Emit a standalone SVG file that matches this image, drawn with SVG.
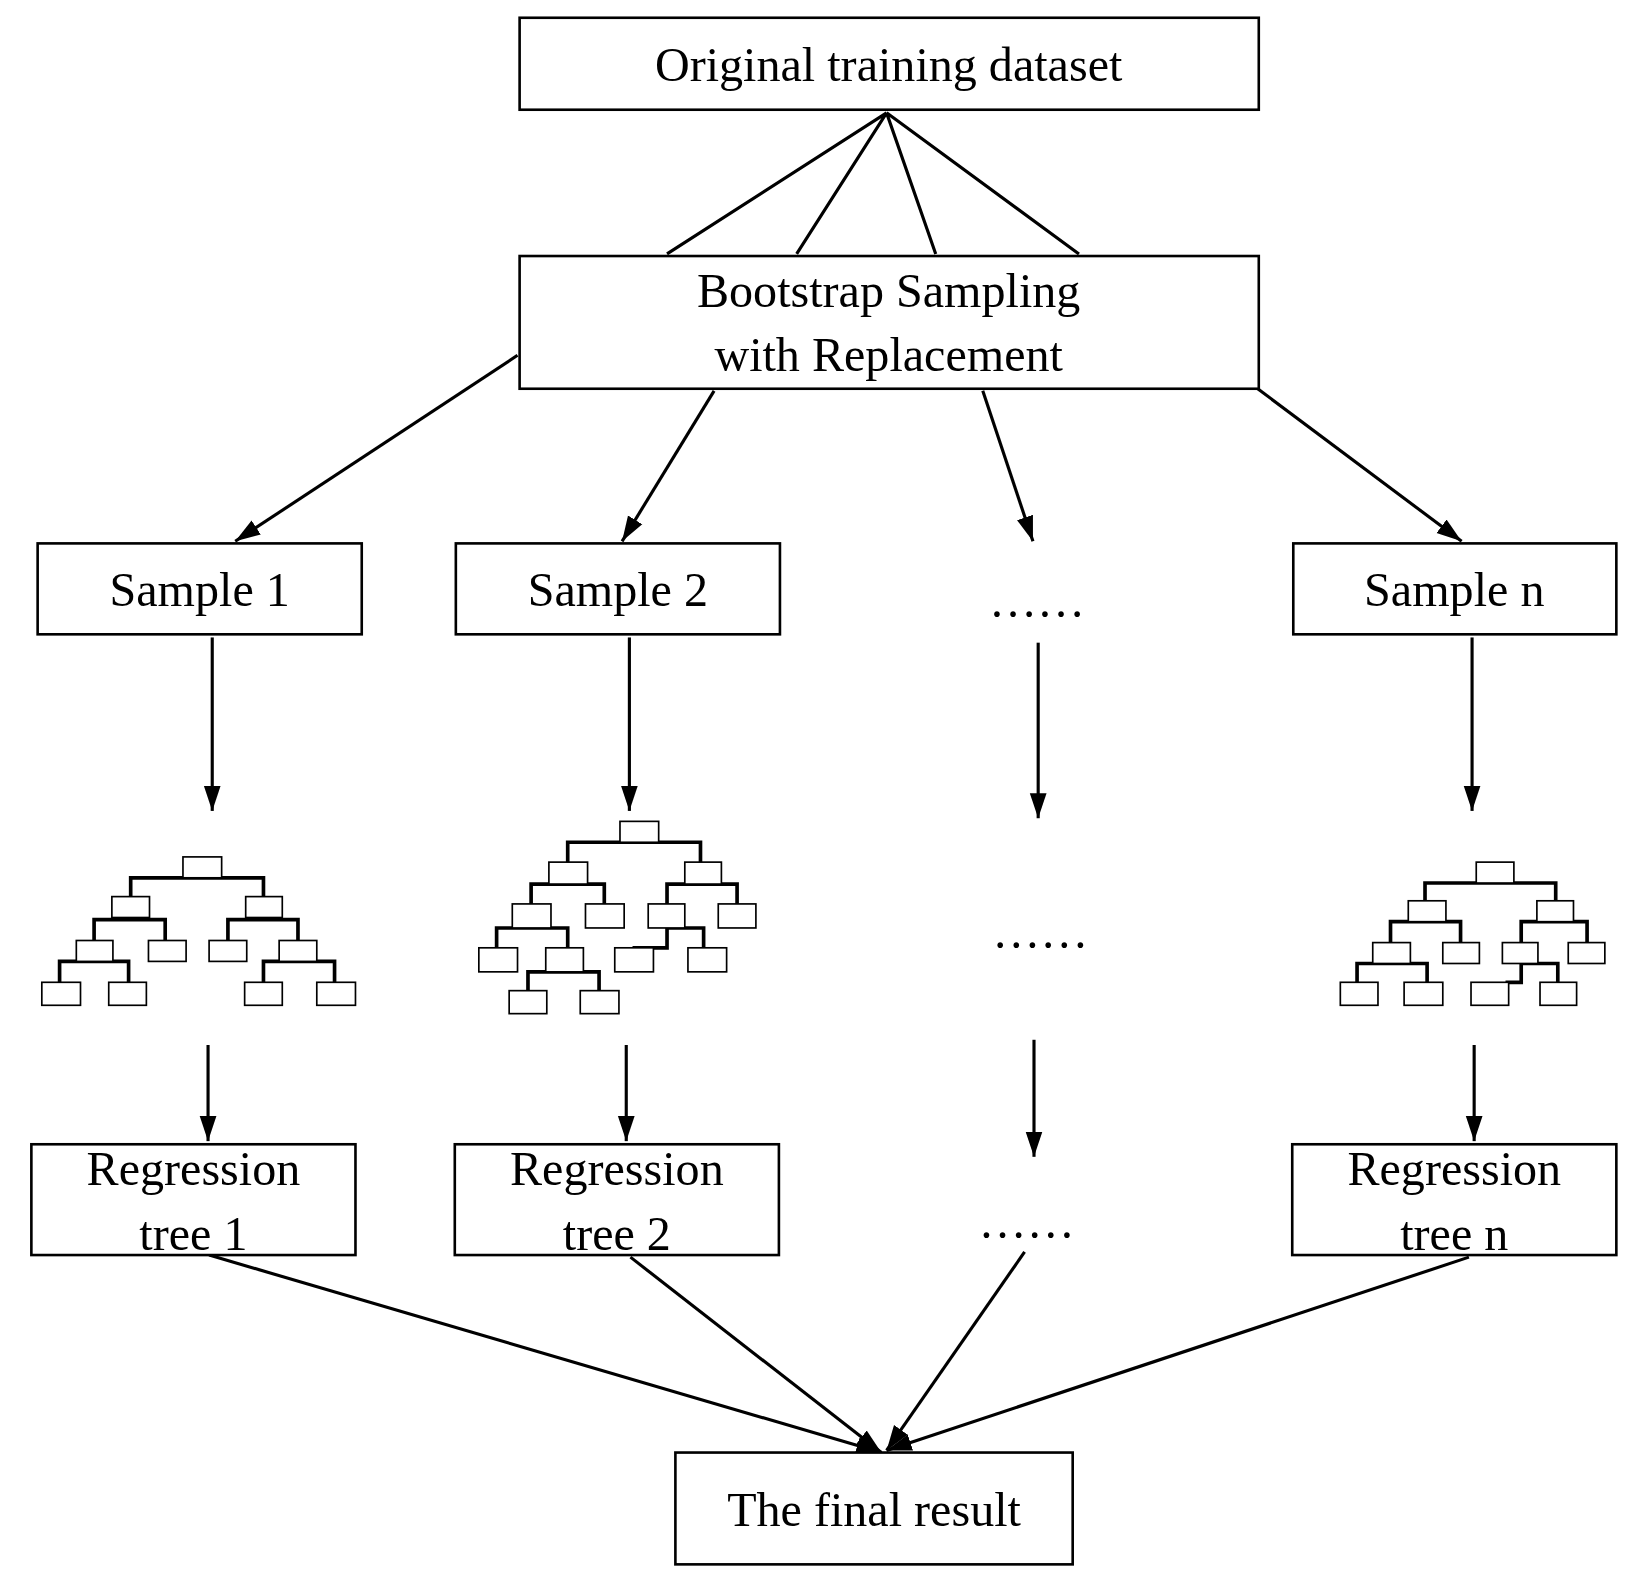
<svg xmlns="http://www.w3.org/2000/svg" width="1631" height="1580" viewBox="0 0 1631 1580">
<style>
.b{fill:#fff;stroke:#000;stroke-width:2.5}
.t{font-family:"Liberation Serif",serif;font-size:46px;fill:#000;text-anchor:middle}
.c{stroke:#000;stroke-width:3;fill:none}
.s{fill:#fff;stroke:#000;stroke-width:1.6}
.tb{stroke:#000;stroke-width:3.5;fill:none}
</style>
<defs><marker id="a" markerUnits="userSpaceOnUse" markerWidth="24" markerHeight="34" refX="30" refY="10" viewBox="0 0 30 20" orient="auto"><path d="M0,0L30,10L0,20Z" fill="#000"/></marker></defs>
<rect width="1631" height="1580" fill="#fff"/>
<g transform="scale(1.0455,1.045)">
<g id="connectors">
<path class="c" d="M848,108L638,243M848,108L762,243M848,108L895,243M848,108L1032,243"/>
<g marker-end="url(#a)">
<path class="c" d="M495,340L225,518"/><path class="c" d="M683,374L595,518"/><path class="c" d="M940,374L988,518"/><path class="c" d="M1203,372L1398,518"/>
<path class="c" d="M203,610V776"/><path class="c" d="M602,610V776"/><path class="c" d="M993,615V783"/><path class="c" d="M1408,610V776"/>
<path class="c" d="M199,1000V1092"/><path class="c" d="M599,1000V1092"/><path class="c" d="M989,995V1107"/><path class="c" d="M1410,1000V1092"/>
<path class="c" d="M200,1201L843,1390"/><path class="c" d="M603,1203L843,1390"/><path class="c" d="M980,1198L848,1388"/><path class="c" d="M1405,1203L848,1388"/>
</g>
</g>
<g id="original"><rect class="b" x="497" y="17" width="707" height="88"/><text class="t" x="850" y="78">Original training dataset</text></g>
<g id="bootstrap"><rect class="b" x="497" y="245" width="707" height="127"/><text class="t" x="850" y="294">Bootstrap Sampling</text><text class="t" x="850" y="355">with Replacement</text></g>
<g id="sample1"><rect class="b" x="36" y="520" width="310" height="87"/><text class="t" x="191" y="580">Sample 1</text></g>
<g id="sample2"><rect class="b" x="436" y="520" width="310" height="87"/><text class="t" x="591" y="580">Sample 2</text></g>
<g id="dots1"><text class="t" x="992" y="590">……</text></g>
<g id="samplen"><rect class="b" x="1237" y="520" width="309" height="87"/><text class="t" x="1391" y="580">Sample n</text></g>
<g id="tree1">
<path class="tb" d="M125,858V840H252V858M90,900V880H158V900M218,900V880H285V900M57,940V920H123V940M252,940V920H320V940"/>
<rect class="s" x="175" y="820" width="37" height="20"/><rect class="s" x="107" y="858" width="36" height="20"/><rect class="s" x="235" y="858" width="35" height="20"/>
<rect class="s" x="73" y="900" width="35" height="20"/><rect class="s" x="142" y="900" width="36" height="20"/><rect class="s" x="200" y="900" width="36" height="20"/><rect class="s" x="267" y="900" width="36" height="20"/>
<rect class="s" x="40" y="940" width="37" height="22"/><rect class="s" x="104" y="940" width="36" height="22"/><rect class="s" x="234" y="940" width="36" height="22"/><rect class="s" x="303" y="940" width="37" height="22"/>
</g>
<g id="tree2">
<path class="tb" d="M543,825V806H670V825M508,865V846H578V865M638,865V846H705V865M475,907V888H543V907M673,907V888H638V907H605M505,948V930H573V948"/>
<rect class="s" x="593" y="786" width="37" height="20"/><rect class="s" x="525" y="825" width="37" height="21"/><rect class="s" x="655" y="825" width="35" height="21"/>
<rect class="s" x="490" y="865" width="37" height="23"/><rect class="s" x="560" y="865" width="37" height="23"/><rect class="s" x="620" y="865" width="35" height="23"/><rect class="s" x="687" y="865" width="36" height="23"/>
<rect class="s" x="458" y="907" width="37" height="23"/><rect class="s" x="522" y="907" width="36" height="23"/><rect class="s" x="588" y="907" width="37" height="23"/><rect class="s" x="658" y="907" width="37" height="23"/>
<rect class="s" x="487" y="948" width="36" height="22"/><rect class="s" x="555" y="948" width="37" height="22"/>
</g>
<g id="dots2"><text class="t" x="995" y="907">……</text></g>
<g id="treen">
<path class="tb" d="M1363,862V845H1488V862M1330,902V882H1397V902M1455,902V882H1518V902M1298,940V922H1365V940M1490,940V922H1455V940H1440"/>
<rect class="s" x="1412" y="825" width="36" height="20"/><rect class="s" x="1347" y="862" width="36" height="20"/><rect class="s" x="1470" y="862" width="35" height="20"/>
<rect class="s" x="1313" y="902" width="36" height="20"/><rect class="s" x="1380" y="902" width="35" height="20"/><rect class="s" x="1437" y="902" width="34" height="20"/><rect class="s" x="1500" y="902" width="35" height="20"/>
<rect class="s" x="1282" y="940" width="36" height="22"/><rect class="s" x="1343" y="940" width="37" height="22"/><rect class="s" x="1407" y="940" width="36" height="22"/><rect class="s" x="1473" y="940" width="35" height="22"/>
</g>
<g id="reg1"><rect class="b" x="30" y="1095" width="310" height="106"/><text class="t" x="185" y="1134">Regression</text><text class="t" x="185" y="1196">tree 1</text></g>
<g id="reg2"><rect class="b" x="435" y="1095" width="310" height="106"/><text class="t" x="590" y="1134">Regression</text><text class="t" x="590" y="1196">tree 2</text></g>
<g id="dots3"><text class="t" x="982" y="1185">……</text></g>
<g id="regn"><rect class="b" x="1236" y="1095" width="310" height="106"/><text class="t" x="1391" y="1134">Regression</text><text class="t" x="1391" y="1196">tree n</text></g>
<g id="final"><rect class="b" x="646" y="1390" width="380" height="107"/><text class="t" x="836" y="1460">The final result</text></g>
</g>
</svg>
